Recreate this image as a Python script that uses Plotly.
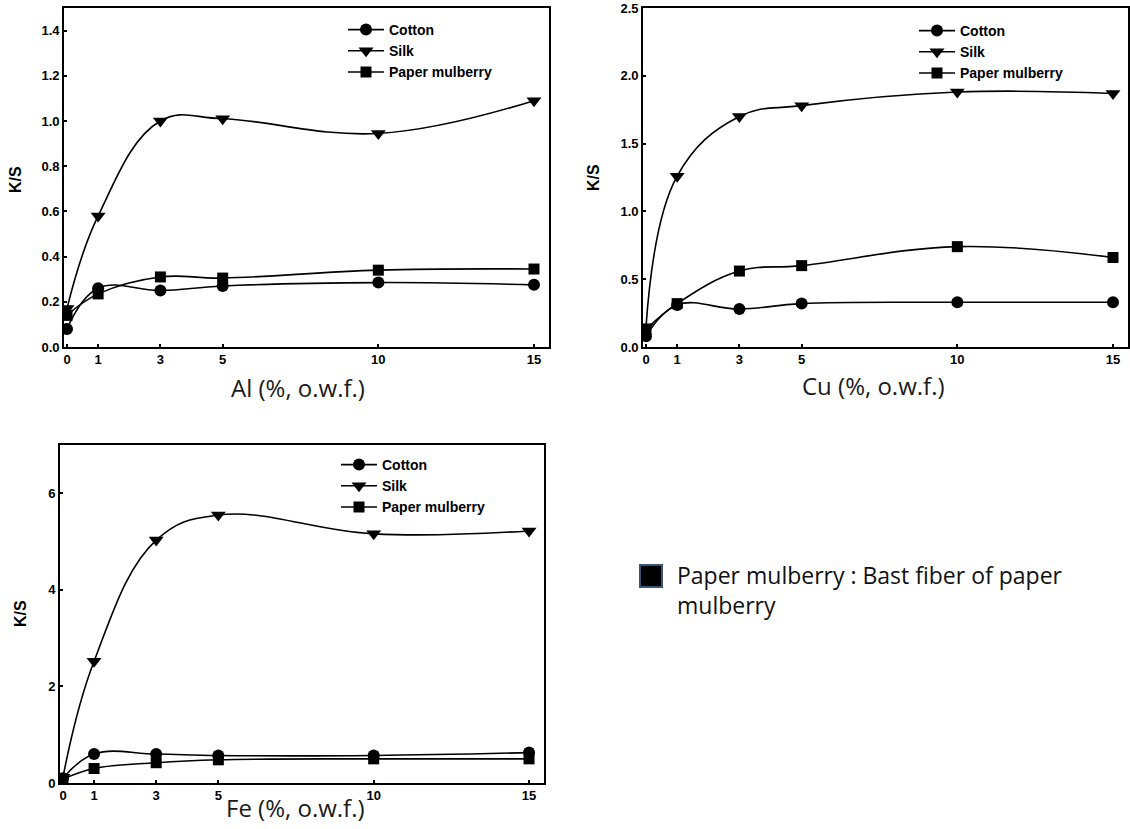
import plotly.graph_objects as go

conc = [0, 1, 3, 5, 10, 15]
series_names = ["Cotton", "Silk", "Paper mulberry"]

al_cotton = [0.08, 0.26, 0.25, 0.27, 0.285, 0.275]
al_silk = [0.17, 0.58, 1.00, 1.01, 0.945, 1.09]
al_paper = [0.14, 0.235, 0.31, 0.305, 0.34, 0.345]

cu_cotton = [0.08, 0.31, 0.28, 0.32, 0.33, 0.33]
cu_silk = [0.15, 1.26, 1.70, 1.78, 1.88, 1.87]
cu_paper = [0.13, 0.32, 0.56, 0.60, 0.74, 0.66]

fe_cotton = [0.10, 0.60, 0.60, 0.57, 0.57, 0.63]
fe_silk = [0.12, 2.52, 5.03, 5.55, 5.16, 5.22]
fe_paper = [0.08, 0.30, 0.42, 0.48, 0.50, 0.50]

x_titles = ["Al (%, o.w.f.)", "Cu (%, o.w.f.)", "Fe (%, o.w.f.)"]
y_title = "K/S"
note_line1 = "Paper mulberry : Bast fiber of paper"
note_line2 = "mulberry"

W, H = 1130, 829
symbols = ["circle", "triangle-down", "square"]
msizes = [12, 13, 11]

panels = [
    dict(data=[al_cotton, al_silk, al_paper], xd=(64, 549), yd=(8, 347), yr=[0, 1.5],
         yt=[0.0, 0.2, 0.4, 0.6, 0.8, 1.0, 1.2, 1.4], fmt=".1f", leg=(343, 14),
         xt=(298, 388), ytp=(16, 180)),
    dict(data=[cu_cotton, cu_silk, cu_paper], xd=(643, 1128), yd=(8, 347), yr=[0, 2.5],
         yt=[0.0, 0.5, 1.0, 1.5, 2.0, 2.5], fmt=".1f", leg=(914, 15),
         xt=(873, 385), ytp=(593, 178)),
    dict(data=[fe_cotton, fe_silk, fe_paper], xd=(60, 544), yd=(445, 783), yr=[0, 7],
         yt=[0, 2, 4, 6], fmt="d", leg=(336, 449),
         xt=(295, 807), ytp=(20, 614)),
]

fig = go.Figure()
layout = dict(width=W, height=H, paper_bgcolor="white", plot_bgcolor="white",
              margin=dict(l=0, r=0, t=0, b=0, autoexpand=False),
              font=dict(family="Arial, Liberation Sans", color="black"))

annotations = []
for i, p in enumerate(panels):
    sfx = "" if i == 0 else str(i + 1)
    legname = "legend" if i == 0 else "legend" + str(i + 1)
    for j, name in enumerate(series_names):
        fig.add_trace(go.Scatter(
            x=conc, y=p["data"][j], name=name, mode="lines+markers",
            line=dict(color="black", width=1.6, shape="spline", smoothing=1.15),
            marker=dict(symbol=symbols[j], size=msizes[j], color="black"),
            xaxis="x" + sfx, yaxis="y" + sfx, legend=legname))
    x0, x1 = p["xd"]
    yt0, yb = p["yd"]
    ppu = 31.13
    xr = [-(3.0 / ppu), 15 + 15.0 / ppu]
    layout["xaxis" + sfx] = dict(
        domain=[x0 / W, x1 / W], range=xr, anchor="y" + sfx, automargin=False,
        tickvals=conc, ticktext=[str(c) for c in conc], ticks="inside", ticklen=3,
        tickwidth=1.5, tickcolor="black",
        showline=True, mirror=True, linecolor="black", linewidth=1.6, showgrid=False, zeroline=False,
        tickfont=dict(size=13, family="Arial, Liberation Sans", weight="bold"))
    layout["yaxis" + sfx] = dict(
        domain=[1 - yb / H, 1 - yt0 / H], range=p["yr"], anchor="x" + sfx, automargin=False,
        tickvals=p["yt"], tickformat=p["fmt"], ticks="inside", ticklen=3, tickwidth=1.5,
        tickcolor="black",
        showline=True, mirror=True, linecolor="black", linewidth=1.6, showgrid=False, zeroline=False,
        tickfont=dict(size=13, family="Arial, Liberation Sans", weight="bold"))
    lx, ly = p["leg"]
    layout[legname] = dict(x=lx / W, y=1 - ly / H, xanchor="left", yanchor="top",
                           bgcolor="rgba(0,0,0,0)", tracegroupgap=0, itemwidth=36,
                           font=dict(size=14, family="Arial, Liberation Sans", weight="bold"))
    tx, ty = p["xt"]
    annotations.append(dict(xref="paper", yref="paper", x=tx / W, y=1 - ty / H,
                            xanchor="center", yanchor="middle", showarrow=False,
                            text=x_titles[i],
                            font=dict(size=24, family="Open Sans, Noto Sans", color="#1a1a1a")))
    yx, yy = p["ytp"]
    annotations.append(dict(xref="paper", yref="paper", x=yx / W, y=1 - yy / H,
                            xanchor="center", yanchor="middle", showarrow=False, textangle=-90,
                            text=y_title,
                            font=dict(size=16, family="Arial, Liberation Sans", weight="bold")))

annotations.append(dict(xref="paper", yref="paper", x=675 / W, y=1 - 575 / H,
                        xanchor="left", yanchor="middle", showarrow=False, text=note_line1,
                        font=dict(size=23, family="Open Sans, Noto Sans", color="#111")))
annotations.append(dict(xref="paper", yref="paper", x=675 / W, y=1 - 605 / H,
                        xanchor="left", yanchor="middle", showarrow=False, text=note_line2,
                        font=dict(size=23, family="Open Sans, Noto Sans", color="#111")))
layout["annotations"] = annotations

fig.update_layout(**layout)

fig.add_shape(type="rect", xref="paper", yref="paper",
              x0=640 / W, x1=662 / W, y0=1 - 587 / H, y1=1 - 565 / H,
              fillcolor="black", line=dict(color="#3a5578", width=2))

fig.write_html("out.html", config={"displayModeBar": False},
               post_script="document.body.style.margin='0px';")
